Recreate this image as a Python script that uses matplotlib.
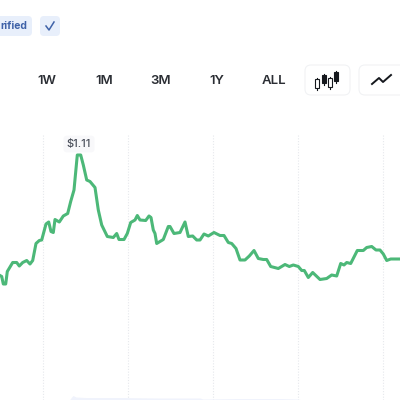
import matplotlib
matplotlib.use('Agg')
import matplotlib.pyplot as plt
from matplotlib.patches import FancyBboxPatch

plt.rcParams['font.family'] = ['Inter', 'DejaVu Sans']

# time position / price
t = [0,1.7,3.3,5.7,7.3,12.7,16.7,19.3,22.7,26.7,30,32.7,36,39.3,41.7,46,48.7,51,53.3,55,
     59.3,63.3,67.7,70.7,74,77.3,80.7,83.3,86.7,90,95,98.3,101.7,107.3,113.3,116.7,119,124,127.3,130.7,
     135,137.3,140,145.7,149,151,153.3,155,156.7,163.3,168.3,170,174,180,185,188.3,192.7,196.7,
     200,204,208.3,214,220,224,228.3,231.7,236,240,245,249.3,254,258.3,263.3,266.7,270.7,278.3,285,289.3,293.3,298.3,
     301.7,304.3,308.3,312.7,320,326.7,331.7,336.7,340.7,344,346.7,350.7,357.3,363.3,366.7,371.7,376,380,383.3,386.7,390.7,400]
price = [0.865,0.863,0.848,0.848,0.873,0.891,0.891,0.884,0.891,0.895,0.888,0.895,0.929,0.935,0.936,0.968,0.972,0.953,0.951,0.977,
         0.972,0.984,0.989,1.013,1.036,1.106,1.106,1.086,1.056,1.053,1.041,0.996,0.966,0.943,0.941,0.949,0.937,0.937,0.949,0.971,
         0.976,0.985,0.976,0.975,0.984,0.981,0.956,0.949,0.929,0.937,0.963,0.963,0.949,0.951,0.972,0.943,0.944,0.936,
         0.936,0.948,0.944,0.951,0.945,0.945,0.931,0.929,0.919,0.896,0.896,0.904,0.915,0.899,0.897,0.897,0.883,0.879,0.887,0.883,0.886,0.883,
         0.875,0.875,0.861,0.871,0.857,0.859,0.866,0.864,0.889,0.886,0.891,0.889,0.915,0.915,0.921,0.923,0.916,0.916,0.908,0.895,0.898,0.898]
grid_t = [43,128,213,298,383]
vol_t = [70,73,76,85,120,160,200,203,240,280,298,302]
vol = [0.618,0.625,0.622,0.621,0.621,0.620,0.620,0.618,0.619,0.619,0.618,0.616]
ranges = ['1W','1M','3M','1Y','ALL']
range_x = [47,104,161,217,274]

fig = plt.figure(figsize=(4,4), dpi=100)
ax = fig.add_axes([0,0,1,1])
ax.set_xlim(0,400)
ax.set_ylim(0.616,1.416)
ax.axis('off')
for g in grid_t:
    ax.plot([g,g],[0.616,1.146], color='#e6e8ec', lw=0.8, ls=(0,(1,1.5)), zorder=1)
ax.fill_between(vol_t, 0.616, vol, color='#f0f3fc', lw=0, zorder=1)
ax.plot(t, price, color='#4cb878', lw=2.2, solid_joinstyle='round', zorder=3)
ax.text(79,1.128,'$1.11', ha='center', va='center', fontsize=8, color='#4a4f5a', fontweight='medium',
        bbox=dict(boxstyle='round,pad=0.3', fc='#f8f8fa', ec='none'), zorder=2)

# page furniture, in pixels from the top left
ui = fig.add_axes([0,0,1,1])
ui.set_xlim(0,400)
ui.set_ylim(400,0)
ui.axis('off')
ui.patch.set_alpha(0)

def box(x, y, w, h, fc, ec='none', r=4):
    ui.add_patch(FancyBboxPatch((x+r,y+r), w-2*r, h-2*r, boxstyle='round,pad=%d,rounding_size=%d' % (r,r),
                                fc=fc, ec=ec, lw=0.8))

box(-12,16,44,20,'#e8effb')
box(40,16,20,20,'#e8effb')
ui.text(27,26,'rified', ha='right', va='center', fontsize=7.5, fontweight='bold', color='#3f62a8')
ui.plot([46,49,54],[26,30,22], color='#3f62a8', lw=1.1)
for lab,x in zip(ranges,range_x):
    ui.text(x,80.5,lab, ha='center', va='center', fontsize=9.5, fontweight='semibold', color='#2b2e34')

box(305,65,45,30,'white','#f1f2f4',6)
box(359,65,50,30,'white','#f1f2f4',6)
# candlestick icon
for x,top,bot,fill in [(317,79,88,'white'),(324,75,83,'#15181d'),(330,78,87,'white'),(336,72,81,'#15181d')]:
    ui.plot([x,x],[top-1.5,bot+1.5], color='#15181d', lw=0.8)
    ui.add_patch(plt.Rectangle((x-1.8,top),3.6,bot-top, fc=fill, ec='#15181d', lw=0.8, zorder=3))
# line icon
ui.plot([372,379,383,391],[84,78,82,75], color='#15181d', lw=1.4)

fig.savefig('out.png', dpi=100, facecolor='white')
